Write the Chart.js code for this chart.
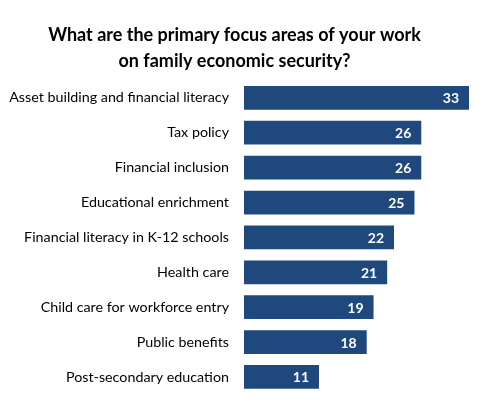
<!DOCTYPE html>
<html lang="en">
<head>
  <meta charset="UTF-8" />
  <title>Family Economic Security Focus Areas</title>
  <script src="https://cdn.jsdelivr.net/npm/chart.js"></script>
  <style>
    html, body { margin: 0; padding: 0; background: #fff; }
    canvas { display: block; }
  </style>
</head>
<body>
  <canvas id="focusChart" width="500" height="418"></canvas>

  <script>
    const categories = [
      'Asset building and financial literacy',
      'Tax policy',
      'Financial inclusion',
      'Educational enrichment',
      'Financial literacy in K-12 schools',
      'Health care',
      'Child care for workforce entry',
      'Public benefits',
      'Post-secondary education'
    ];
    const counts = [33, 26, 26, 25, 22, 21, 19, 18, 11];

    const titleLines = [
      'What are the primary focus areas of your work',
      'on family economic security?'
    ];

    const barColor = '#1F497D';
    const fontFamily = 'Lato, "Open Sans", sans-serif';

    // draw the value inside the end of each bar
    const valueLabels = {
      id: 'valueLabels',
      afterDatasetsDraw(chart) {
        const ctx = chart.ctx;
        const meta = chart.getDatasetMeta(0);
        ctx.save();
        ctx.fillStyle = '#ffffff';
        ctx.font = 'bold 14px ' + fontFamily;
        ctx.textAlign = 'right';
        ctx.textBaseline = 'middle';
        meta.data.forEach((bar, i) => {
          ctx.fillText(counts[i], bar.x - 10, bar.y + 1);
        });
        ctx.restore();
      }
    };

    const ctx = document.getElementById('focusChart').getContext('2d');
    new Chart(ctx, {
      type: 'bar',
      data: {
        labels: categories,
        datasets: [{
          data: counts,
          backgroundColor: barColor,
          borderWidth: 0,
          barPercentage: 0.68,
          categoryPercentage: 1.0
        }]
      },
      options: {
        indexAxis: 'y',
        responsive: false,
        animation: false,
        layout: { padding: { left: 0, right: 31, top: 0, bottom: 18 } },
        plugins: {
          legend: { display: false },
          tooltip: { enabled: false },
          title: {
            display: true,
            text: titleLines,
            color: '#000000',
            font: { family: fontFamily, size: 18, weight: 'bold', lineHeight: 1.4 },
            padding: { top: 23, bottom: 7 }
          }
        },
        scales: {
          x: {
            min: 0,
            max: 33,
            display: false
          },
          y: {
            grid: { display: false, drawTicks: false },
            border: { display: false },
            ticks: {
              color: '#000000',
              padding: 15,
              font: { family: fontFamily, size: 14.3 }
            },
            afterFit(axis) { axis.width = 244; }
          }
        }
      },
      plugins: [valueLabels]
    });
  </script>
</body>
</html>
